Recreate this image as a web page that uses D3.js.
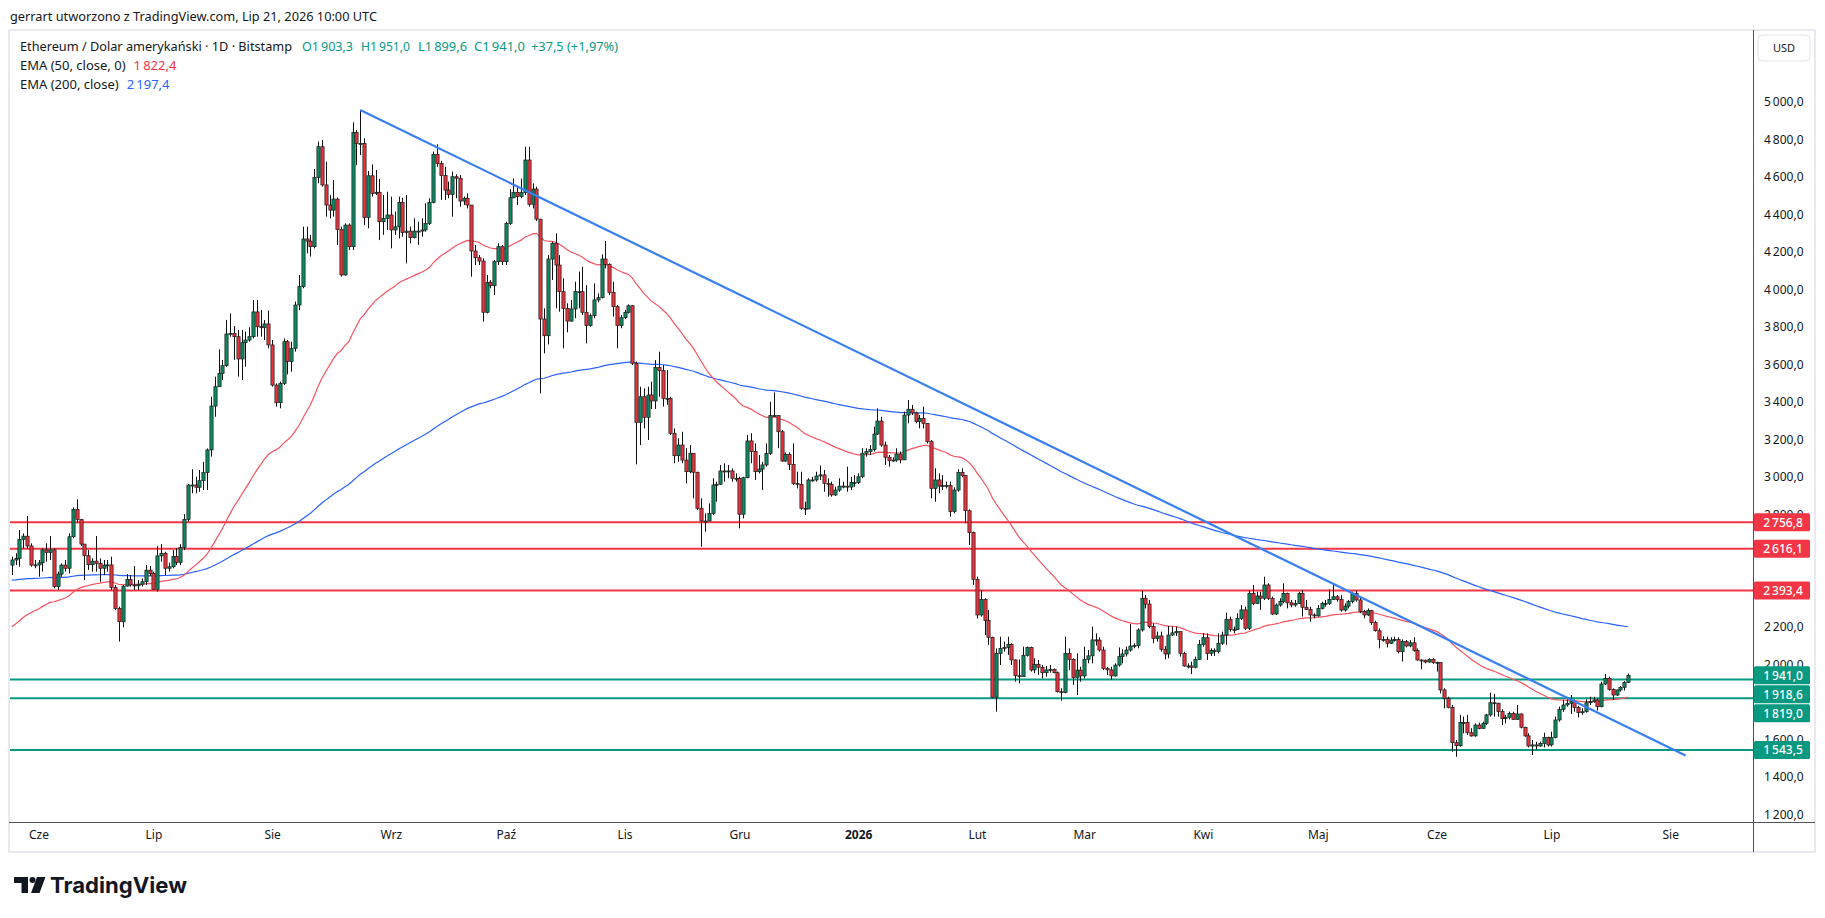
<!DOCTYPE html>
<html><head><meta charset="utf-8">
<script src="https://cdn.jsdelivr.net/npm/d3@7"></script>
<style>
body{margin:0;background:#fff;}
svg{display:block;font-family:"Noto Sans","Liberation Sans",sans-serif;}
</style>
</head><body>
<svg id="chart" width="1825" height="918"></svg>
<script>
// ---------------- DATA ----------------
const startDate = "2025-05-25";   // first daily candle
const firstOpen = 2529;
// daily closes (May 25, 2025 -> Jul 21, 2026)
const closes = [
 2556,2565,2666,2683,2631,2529,2530,
 2541,2610,2596,2610,2414,2481,2529,2512,2680,2826,2773,2641,2579,2531,2550,2538,2512,2529,2530,2410,2298,2227,2417,2453,2423,2418,2427,2440,2502,2485,
 2400,2578,2592,2512,2520,2574,2542,2623,2773,2956,2956,2944,2979,3022,3143,3377,3480,3551,3592,3761,3765,3747,3628,3715,3729,3747,3879,3800,3796,3815,3703,
 3489,3395,3498,3720,3614,3685,3916,4014,4268,4257,4227,4595,4760,4556,4449,4422,4481,4319,4076,4342,4227,4835,4778,4778,4382,4605,4511,4517,4360,4378,4396,
 4316,4333,4463,4303,4310,4275,4310,4310,4316,4351,4463,4719,4671,4606,4529,4506,4600,4592,4470,4485,4449,4204,4168,4150,3877,4037,4019,4147,4227,4147,
 4351,4488,4517,4494,4516,4689,4453,4534,4374,3841,3752,4161,4245,4129,3987,3898,3830,3895,3987,3987,3877,3806,3859,3943,3955,4161,4133,3983,3907,3806,3848,
 3877,3912,3605,3290,3427,3317,3436,3404,3583,3566,3418,3418,3232,3112,3169,3089,3027,3125,3024,2832,2764,2764,2805,2956,2960,3031,3027,3031,2992,2992,
 2800,2995,3191,3134,3027,3041,3063,3125,3326,3326,3240,3084,3119,3066,2965,2960,2832,2828,2983,2983,3004,3010,2965,2960,2903,2929,2950,2950,2945,2969,2969,
 3000,3125,3134,3146,3228,3297,3169,3104,3086,3089,3121,3090,3329,3360,3340,3294,3311,3285,3187,2938,2983,2950,2954,2954,2814,2929,3022,3006,2819,2702,2453,
 2263,2346,2233,2144,1824,2058,2085,2090,2106,2023,1939,1934,2048,2089,1970,2000,1984,1955,1970,1973,1955,1854,1850,2058,2026,1929,1969,1938,
 2026,2045,2130,2129,2076,1978,1970,1938,1996,2041,2055,2076,2097,2100,2183,2352,2321,2201,2138,2151,2080,2055,2156,2168,2174,2058,1991,1991,1984,2026,2106,
 2142,2058,2073,2068,2112,2156,2240,2186,2186,2245,2290,2192,2378,2325,2364,2352,2423,2352,2268,2316,2334,2378,2328,2316,2325,2378,2304,2293,2263,2258,
 2298,2325,2325,2346,2360,2346,2289,2310,2334,2378,2343,2281,2263,2286,2222,2179,2133,2133,2112,2129,2133,2067,2121,2098,2115,2073,2023,2020,2012,2026,2009,
 2009,1863,1818,1770,1582,1566,1690,1690,1635,1618,1676,1658,1685,1730,1795,1792,1748,1710,1717,1738,1706,1735,1664,1618,1564,1570,1564,1578,1610,1570,
 1610,1703,1760,1783,1792,1801,1770,1742,1747,1795,1801,1810,1774,1895,1925,1866,1836,1863,1877,1903.3,1941
];
const highs = [
 2574,2592,2716,2698,2791,2645,2556,
 2556,2618,2645,2684,2618,2494,2538,2556,2698,2837,2880,2773,2641,2609,2565,2684,2565,2556,2556,2574,2423,2307,2423,2481,2476,2524,2449,2458,2529,2524,
 2494,2631,2641,2600,2542,2609,2618,2641,2801,2961,3040,3000,3036,3080,3151,3427,3534,3679,3623,3836,3871,3804,3783,3783,3774,3797,3942,3942,3889,3836,3886,
 3729,3498,3507,3738,3729,3720,3934,4076,4334,4334,4289,4641,4787,4796,4680,4502,4582,4488,4334,4351,4351,4890,4849,4956,4805,4630,4666,4636,4588,4502,4520,
 4494,4414,4494,4488,4502,4334,4378,4360,4378,4458,4485,4734,4773,4684,4653,4574,4627,4613,4609,4494,4511,4449,4236,4182,4165,4076,4049,4156,4245,4236,
 4360,4534,4591,4547,4590,4760,4760,4565,4547,4374,3898,4182,4254,4298,4182,4058,3925,3942,4040,4094,4120,4022,3870,4031,3978,4186,4257,4138,4040,3916,3862,
 3889,3919,3916,3614,3480,3471,3480,3507,3622,3667,3596,3569,3427,3258,3205,3240,3152,3169,3125,3027,2885,2805,2858,2992,2974,3063,3072,3063,3045,3018,
 3000,3000,3223,3232,3178,3116,3080,3178,3400,3450,3320,3249,3130,3130,3178,3027,3027,2867,2992,3000,3027,3060,3036,2992,2974,2947,2992,2974,3054,3000,3009,
 3018,3152,3152,3169,3267,3365,3320,3187,3116,3104,3152,3134,3347,3409,3383,3347,3329,3374,3285,3196,3045,3018,3009,2974,2974,2944,3040,3045,3009,2826,2707,
 2467,2396,2352,2290,2147,2085,2147,2121,2147,2112,2026,2026,2094,2094,2094,2032,2023,1996,1991,1996,1978,1961,1872,2147,2085,2032,2058,1987,
 2094,2076,2201,2165,2144,2094,1987,1987,2005,2090,2080,2094,2215,2112,2192,2393,2369,2343,2218,2174,2174,2098,2204,2201,2201,2174,2067,2005,2014,2041,2130,
 2165,2165,2085,2085,2165,2174,2275,2254,2201,2272,2316,2307,2396,2423,2387,2387,2467,2432,2361,2325,2352,2432,2382,2343,2343,2387,2396,2343,2307,2272,
 2316,2334,2343,2400,2423,2369,2369,2325,2343,2387,2392,2361,2290,2298,2290,2232,2192,2150,2147,2144,2147,2144,2133,2129,2129,2144,2085,2026,2026,2032,2032,
 2014,2009,1872,1827,1783,1596,1730,1721,1730,1659,1685,1689,1694,1735,1849,1842,1795,1760,1730,1747,1747,1783,1738,1667,1632,1596,1587,1587,1635,1614,
 1641,1721,1774,1810,1813,1836,1813,1778,1765,1813,1827,1827,1818,1907,1948,1934,1872,1866,1884,1910,1951
];
const lows = [
 2476,2529,2520,2618,2618,2520,2512,
 2467,2494,2547,2556,2405,2396,2467,2494,2485,2672,2752,2631,2449,2503,2494,2494,2440,2476,2494,2396,2289,2121,2197,2414,2414,2396,2396,2414,2423,2471,
 2396,2387,2547,2476,2494,2512,2529,2529,2609,2760,2912,2912,2920,2929,2929,3107,3320,3480,3516,3587,3747,3623,3534,3516,3587,3720,3738,3747,3747,3729,3685,
 3480,3374,3365,3489,3546,3560,3667,3889,4005,4191,4174,4218,4565,4547,4387,4378,4387,4236,4067,4072,4209,4209,4662,4716,4342,4325,4494,4502,4262,4290,4316,
 4218,4289,4271,4280,4138,4245,4271,4236,4280,4307,4342,4458,4653,4476,4476,4485,4387,4485,4440,4449,4431,4067,4129,4129,3827,3871,4005,3969,4129,4129,
 4129,4342,4485,4449,4485,4502,4440,4431,4364,3445,3658,3706,4049,3898,3880,3685,3770,3827,3845,3898,3862,3711,3800,3845,3930,3951,4111,3969,3854,3685,3792,
 3841,3871,3596,3066,3169,3258,3196,3361,3361,3427,3374,3383,3223,3072,3080,3072,2965,3018,2885,2823,2627,2707,2764,2796,2867,2956,2974,2992,2974,2974,
 2725,2778,2992,3072,2983,3018,2929,3054,3116,3320,3152,3080,3080,3036,2956,2938,2823,2796,2828,2974,2974,2983,2920,2894,2894,2897,2920,2938,2920,2929,2947,
 2961,2992,3107,3116,3134,3223,3160,3063,3054,3080,3080,3072,3089,3285,3329,3285,3258,3258,3178,2885,2867,2912,2929,2938,2787,2805,2920,2997,2752,2636,2423,
 2245,2254,2156,2103,1819,1747,1996,2067,2050,1996,1907,1898,1934,2041,1961,1952,1943,1925,1934,1955,1952,1849,1806,1845,1970,1890,1836,1907,
 1925,2005,2005,2100,2067,1969,1943,1916,1934,1987,2005,2041,2067,2085,2085,2174,2298,2192,2112,2121,2067,2026,2032,2151,2151,2041,1987,1978,1948,1978,2023,
 2094,2023,2044,2044,2058,2103,2103,2174,2165,2183,2236,2183,2183,2316,2321,2290,2343,2343,2263,2263,2307,2325,2298,2304,2307,2321,2254,2290,2227,2245,
 2254,2293,2307,2316,2343,2334,2281,2281,2298,2325,2334,2272,2245,2258,2210,2174,2085,2120,2090,2108,2121,2058,2014,2090,2090,2067,2019,1973,2005,2009,2002,
 1961,1845,1765,1765,1534,1507,1561,1632,1623,1614,1614,1653,1658,1676,1721,1721,1721,1676,1685,1706,1703,1703,1658,1614,1557,1516,1546,1561,1557,1561,
 1561,1605,1694,1747,1774,1735,1747,1717,1730,1742,1783,1795,1753,1770,1890,1859,1810,1831,1854,1860,1899.6
];
const emaSeed50 = 2200;    // EMA(50) value read at the first visible day
const emaSeed200 = 2449;   // EMA(200) value read at the first visible day
// legend values as printed on the chart
const legendOHLC = [1903.3, 1951.0, 1899.6, 1941.0];
const legendChange = [37.5, 1.97];
const legendEma = [1822.4, 2197.4];
const monthTicks = ["2025-06-01","2025-07-01","2025-08-01","2025-09-01","2025-10-01","2025-11-01","2025-12-01","2026-01-01","2026-02-01","2026-03-01","2026-04-01","2026-05-01","2026-06-01","2026-07-01","2026-08-01"];
const monthLabels = ["Cze","Lip","Sie","Wrz","Paź","Lis","Gru","2026","Lut","Mar","Kwi","Maj","Cze","Lip","Sie"];
const priceTicks = [1200,1400,1600,2000,2200,2400,2800,3000,3200,3400,3600,3800,4000,4200,4400,4600,4800,5000];
const resistanceLevels = [2756.8, 2616.1, 2393.4];
const supportLevels = [1918.6, 1819.0, 1543.5];
const trendDates = ["2025-08-24","2026-08-05"];
const trendPrices = [4956, 1514];
const lastClose = 1941.0;

// ---------------- SETUP ----------------
const svg = d3.select("#chart");
const plot = {left: 10, right: 1753, top: 30, bottom: 822};
const UP = "#0e8a63", DOWN = "#e8343f", RED = "#f23645", TEAL = "#089981";
const loc = d3.formatLocale({decimal: ",", thousands: "\u2009", grouping: [3], currency: ["", ""]});
const fmt = loc.format(",.1f");

const parse = d3.utcParse("%Y-%m-%d");
const x = d3.scaleUtc().domain([parse("2025-06-01"), parse("2026-08-01")]).range([38.5, 1670.2]);
const y = d3.scaleLinear().domain([1200, 5000]).range([814.3, 101.7]);

const t0 = parse(startDate);
const data = closes.map((c, i) => {
  const o = i === 0 ? firstOpen : closes[i - 1];
  return {date: d3.utcDay.offset(t0, i), o, c, h: Math.max(highs[i], o, c), l: Math.min(lows[i], o, c)};
});

function ema(period, seed) {
  const a = 2 / (period + 1); let e = seed;
  return data.map((d, i) => { if (i > 0) e = a * d.c + (1 - a) * e; return {date: d.date, v: e}; });
}
const ema50 = ema(50, emaSeed50), ema200 = ema(200, emaSeed200);

// ---------------- FRAME ----------------
svg.append("text").attr("x", 10).attr("y", 21).attr("font-size", 13).attr("fill", "#131722")
  .attr("textLength", 367).attr("lengthAdjust", "spacingAndGlyphs")
  .text("gerrart utworzono z TradingView.com, Lip 21, 2026 10:00 UTC");

svg.append("rect").attr("x", 9).attr("y", 30).attr("width", 1806).attr("height", 822)
  .attr("fill", "#fff").attr("stroke", "#e0e3eb").attr("stroke-width", 1.5);

svg.append("defs").append("clipPath").attr("id", "clip").append("rect")
  .attr("x", plot.left).attr("y", plot.top).attr("width", plot.right - plot.left).attr("height", plot.bottom - plot.top);

const g = svg.append("g").attr("clip-path", "url(#clip)");

g.selectAll(".res").data(resistanceLevels).join("line")
  .attr("x1", plot.left).attr("x2", plot.right).attr("y1", d => y(d)).attr("y2", d => y(d))
  .attr("stroke", RED).attr("stroke-width", 2);
g.selectAll(".sup").data(supportLevels).join("line")
  .attr("x1", plot.left).attr("x2", plot.right).attr("y1", d => y(d)).attr("y2", d => y(d))
  .attr("stroke", TEAL).attr("stroke-width", 2);

const line = d3.line().x(d => x(d.date)).y(d => y(d.v));
g.append("path").datum(ema200).attr("d", line).attr("fill", "none").attr("stroke", "#2962ff").attr("stroke-width", 1.2);
g.append("path").datum(ema50).attr("d", line).attr("fill", "none").attr("stroke", "#f7525f").attr("stroke-width", 1.2);

const bw = 3.2;
const cg = g.append("g");
cg.selectAll("line.w").data(data).join("line")
  .attr("x1", d => Math.round(x(d.date)) + 0.5).attr("x2", d => Math.round(x(d.date)) + 0.5)
  .attr("y1", d => y(d.h)).attr("y2", d => y(d.l))
  .attr("stroke", "#111").attr("stroke-width", 1);
cg.selectAll("rect.b").data(data).join("rect")
  .attr("x", d => Math.round(x(d.date)) + 0.5 - bw / 2)
  .attr("y", d => y(Math.max(d.o, d.c)))
  .attr("width", bw)
  .attr("height", d => Math.max(1, Math.abs(y(d.o) - y(d.c))))
  .attr("fill", d => d.c >= d.o ? UP : DOWN)
  .attr("stroke", "#1a1a1a").attr("stroke-width", 0.7);

const tl = trendDates.map((d, i) => ({date: parse(d), v: trendPrices[i]}));
g.append("path").datum(tl).attr("d", line).attr("fill", "none").attr("stroke", "#3a7ff0").attr("stroke-width", 2.2);

svg.append("line").attr("x1", plot.right + 0.5).attr("x2", plot.right + 0.5).attr("y1", 30).attr("y2", 852)
  .attr("stroke", "#50535e").attr("stroke-width", 1);
svg.append("line").attr("x1", 9).attr("x2", 1815).attr("y1", plot.bottom + 0.5).attr("y2", plot.bottom + 0.5)
  .attr("stroke", "#50535e").attr("stroke-width", 1);

// price axis
const yAxis = d3.axisRight(y).tickValues(priceTicks).tickFormat(fmt).tickSize(0).tickPadding(11);
const ya = svg.append("g").attr("transform", `translate(${plot.right},0)`).call(yAxis);
ya.select(".domain").remove();
ya.selectAll("text").attr("font-size", 12).attr("fill", "#131722").attr("font-family", "Noto Sans, sans-serif");

// time axis
const xAxis = d3.axisBottom(x).tickValues(monthTicks.map(parse)).tickFormat((d, i) => monthLabels[i]).tickSize(0).tickPadding(8);
const xa = svg.append("g").attr("transform", `translate(0,${plot.bottom})`).call(xAxis);
xa.select(".domain").remove();
xa.selectAll("text").attr("font-size", 12).attr("fill", "#131722").attr("font-family", "Noto Sans, sans-serif")
  .attr("font-weight", (d, i) => monthLabels[i] === "2026" ? 700 : 400);

// price labels (stacked to avoid overlap)
const labels = [
  ...resistanceLevels.map(v => ({v, c: RED})),
  {v: lastClose, c: TEAL},
  ...supportLevels.map(v => ({v, c: TEAL}))
].sort((a, b) => b.v - a.v);
let prevY = -1e9;
labels.forEach(l => { l.y = Math.max(y(l.v), prevY + 19); prevY = l.y; });
const lg = svg.append("g");
lg.selectAll("rect").data(labels).join("rect")
  .attr("x", plot.right + 1).attr("y", d => d.y - 9).attr("width", 56).attr("height", 18).attr("rx", 1.5)
  .attr("fill", d => d.c);
lg.selectAll("text").data(labels).join("text")
  .attr("x", plot.right + 30).attr("y", d => d.y + 4.2).attr("text-anchor", "middle")
  .attr("font-size", 12).attr("fill", "#fff").attr("font-weight", 500).text(d => fmt(d.v));

// USD box
svg.append("rect").attr("x", 1758).attr("y", 35).attr("width", 52).attr("height", 26).attr("rx", 4)
  .attr("fill", "#fff").attr("stroke", "#e0e3eb");
svg.append("text").attr("x", 1784).attr("y", 52).attr("text-anchor", "middle").attr("font-size", 11).attr("fill", "#131722").text("USD");

// legend / header
const hd = svg.append("g").attr("font-size", 13);
const l1 = hd.append("text").attr("y", 51);
l1.append("tspan").attr("x", 20).attr("textLength", 272).attr("lengthAdjust", "spacingAndGlyphs")
  .attr("fill", "#131722").text("Ethereum / Dolar amerykański · 1D · Bitstamp");
const segX = [302, 361, 418, 474];
const segW = [51, 49, 49, 51];
["O", "H", "L", "C"].forEach((k, i) => {
  l1.append("tspan").attr("x", segX[i]).attr("textLength", segW[i]).attr("lengthAdjust", "spacingAndGlyphs")
    .attr("fill", TEAL).text(k + fmt(legendOHLC[i]));
});
l1.append("tspan").attr("x", 531).attr("textLength", 87).attr("lengthAdjust", "spacingAndGlyphs").attr("fill", TEAL)
  .text("+" + loc.format(".1f")(legendChange[0]) + " (+" + loc.format(".2f")(legendChange[1]) + "%)");
const l2 = hd.append("text").attr("x", 20).attr("y", 70);
l2.append("tspan").attr("fill", "#131722").text("EMA (50, close, 0)");
l2.append("tspan").attr("dx", 8).attr("fill", RED).text(fmt(legendEma[0]));
const l3 = hd.append("text").attr("x", 20).attr("y", 89);
l3.append("tspan").attr("fill", "#131722").text("EMA (200, close)");
l3.append("tspan").attr("dx", 8).attr("fill", "#2962ff").text(fmt(legendEma[1]));

// TradingView logo
const logo = svg.append("g").attr("fill", "#131722");
logo.append("path").attr("d", "M14,877 H28 V893 H21.5 V883 H14 Z");
logo.append("circle").attr("cx", 32.5).attr("cy", 880).attr("r", 3);
logo.append("path").attr("d", "M37,877 H45.5 L39.5,893 H31 Z");
logo.append("text").attr("x", 50).attr("y", 893).attr("font-size", 22).attr("font-weight", 700)
  .attr("textLength", 137).attr("lengthAdjust", "spacingAndGlyphs")
  .attr("font-family", "Inter, Roboto, sans-serif").text("TradingView");
</script>
</body></html>
